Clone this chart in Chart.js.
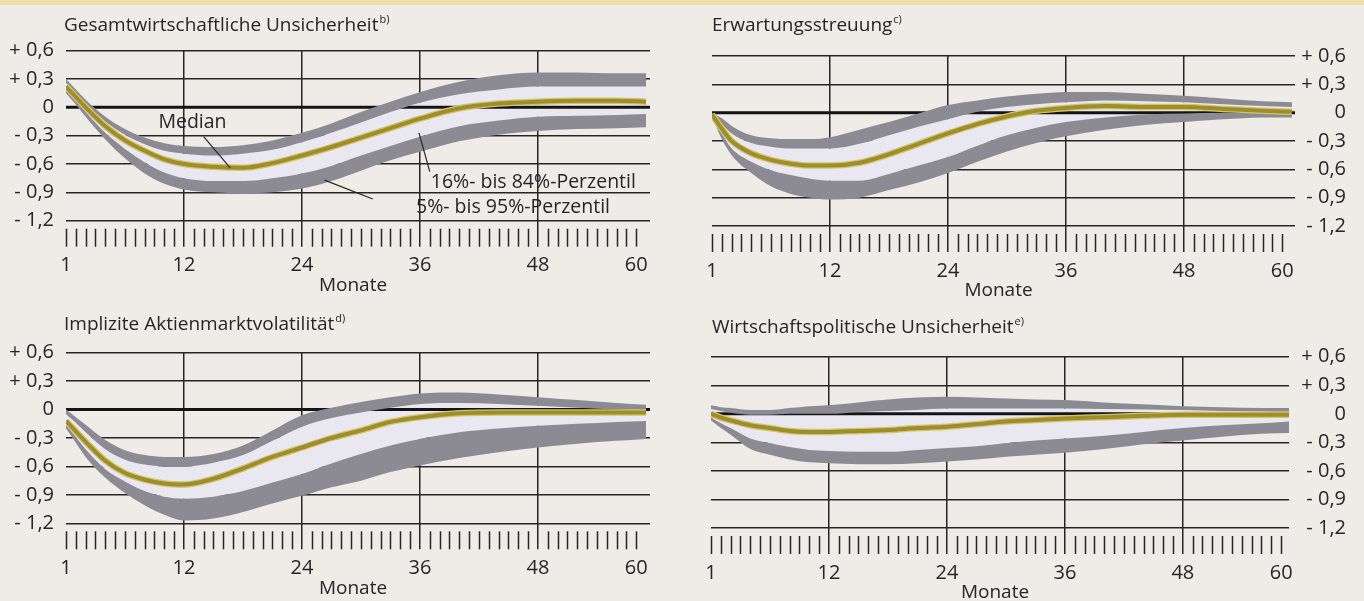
<!DOCTYPE html>
<html lang="de">
<head>
<meta charset="utf-8">
<title>Unsicherheitsschocks</title>
<script src="https://cdn.jsdelivr.net/npm/chart.js@4.4.1/dist/chart.umd.min.js"></script>
<style>
    html, body { margin: 0; padding: 0; background: #eeece7; }
    #page { position: relative; width: 1364px; height: 601px; overflow: hidden; background: #eeece7; }
    #page .strip { position: absolute; left: 0; top: 0; width: 1364px; height: 5px; background: #ece0a6; }
    #page canvas { position: absolute; }
</style>
</head>
<body>
<div id="page">
    <div class="strip"></div>
    <canvas id="tl" width="682" height="300" style="left:0;top:0"></canvas>
    <canvas id="tr" width="682" height="300" style="left:682px;top:0"></canvas>
    <canvas id="bl" width="682" height="301" style="left:0;top:300px"></canvas>
    <canvas id="br" width="682" height="301" style="left:682px;top:300px"></canvas>
</div>
<script>
// sample positions along the month axis (first tick = "1")
const months = [0, 1, 2, 4, 6, 8, 10, 12, 15, 18, 21, 24, 27, 30, 33, 36, 40, 44, 48, 52, 56, 59];

const yTicks = [0.6, 0.3, 0, -0.3, -0.6, -0.9, -1.2];
const xTickValues = [0, 12, 24, 36, 48, 58];
const xTickLabels = ['1', '12', '24', '36', '48', '60'];

// Gesamtwirtschaftliche Unsicherheit
const gesP95 = [0.30, 0.19, 0.08, -0.10, -0.23, -0.32, -0.38, -0.41, -0.42, -0.40, -0.35, -0.27, -0.17, -0.05, 0.06, 0.16, 0.27, 0.34, 0.37, 0.37, 0.36, 0.36];
const gesP84 = [0.26, 0.15, 0.04, -0.15, -0.29, -0.39, -0.46, -0.49, -0.51, -0.49, -0.45, -0.37, -0.27, -0.16, -0.05, 0.05, 0.14, 0.19, 0.22, 0.22, 0.22, 0.22];
const gesMed = [0.22, 0.11, 0.00, -0.20, -0.35, -0.46, -0.55, -0.60, -0.63, -0.64, -0.59, -0.51, -0.42, -0.32, -0.22, -0.12, -0.01, 0.04, 0.06, 0.07, 0.07, 0.06];
const gesP16 = [0.18, 0.07, -0.05, -0.27, -0.44, -0.58, -0.69, -0.75, -0.78, -0.78, -0.75, -0.70, -0.62, -0.51, -0.41, -0.31, -0.20, -0.14, -0.10, -0.09, -0.08, -0.07];
const gesP5 = [0.15, 0.03, -0.10, -0.34, -0.54, -0.70, -0.81, -0.87, -0.90, -0.91, -0.90, -0.86, -0.78, -0.67, -0.56, -0.47, -0.36, -0.29, -0.25, -0.23, -0.22, -0.21];

// Erwartungsstreuung
const erwP95 = [0.00, -0.06, -0.14, -0.24, -0.27, -0.28, -0.28, -0.26, -0.18, -0.10, -0.01, 0.08, 0.13, 0.17, 0.20, 0.22, 0.22, 0.20, 0.18, 0.15, 0.12, 0.11];
const erwP84 = [-0.01, -0.12, -0.22, -0.32, -0.36, -0.38, -0.38, -0.38, -0.33, -0.24, -0.15, -0.07, 0.01, 0.06, 0.09, 0.11, 0.13, 0.12, 0.11, 0.09, 0.07, 0.06];
const erwMed = [-0.02, -0.17, -0.30, -0.43, -0.50, -0.54, -0.56, -0.56, -0.53, -0.44, -0.33, -0.22, -0.12, -0.04, 0.02, 0.05, 0.07, 0.06, 0.06, 0.04, 0.02, 0.01];
const erwP16 = [-0.03, -0.22, -0.38, -0.52, -0.61, -0.66, -0.70, -0.72, -0.72, -0.65, -0.56, -0.47, -0.35, -0.24, -0.16, -0.10, -0.05, -0.02, -0.01, 0.00, 0.00, 0.00];
const erwP5 = [-0.04, -0.28, -0.45, -0.64, -0.78, -0.86, -0.90, -0.92, -0.90, -0.82, -0.74, -0.64, -0.52, -0.41, -0.32, -0.25, -0.18, -0.13, -0.10, -0.07, -0.05, -0.05];

// Implizite Aktienmarktvolatilität
const volP95 = [0.00, -0.08, -0.16, -0.32, -0.43, -0.48, -0.50, -0.50, -0.47, -0.38, -0.22, -0.06, 0.02, 0.08, 0.13, 0.17, 0.18, 0.16, 0.13, 0.10, 0.07, 0.05];
const volP84 = [-0.05, -0.14, -0.24, -0.42, -0.53, -0.58, -0.60, -0.60, -0.56, -0.48, -0.33, -0.18, -0.09, -0.03, 0.02, 0.06, 0.07, 0.06, 0.04, 0.02, 0.00, -0.01];
const volMed = [-0.12, -0.23, -0.34, -0.54, -0.67, -0.74, -0.78, -0.79, -0.73, -0.62, -0.50, -0.40, -0.30, -0.22, -0.13, -0.08, -0.04, -0.03, -0.03, -0.03, -0.03, -0.03];
const volP16 = [-0.16, -0.29, -0.42, -0.63, -0.76, -0.86, -0.92, -0.94, -0.92, -0.86, -0.77, -0.68, -0.57, -0.47, -0.38, -0.31, -0.24, -0.20, -0.17, -0.15, -0.13, -0.12];
const volP5 = [-0.20, -0.35, -0.50, -0.72, -0.88, -1.01, -1.11, -1.17, -1.15, -1.08, -0.99, -0.91, -0.82, -0.75, -0.66, -0.59, -0.51, -0.45, -0.40, -0.36, -0.33, -0.31];

// Wirtschaftspolitische Unsicherheit
const polP95 = [0.09, 0.07, 0.06, 0.04, 0.04, 0.06, 0.08, 0.09, 0.12, 0.15, 0.17, 0.18, 0.17, 0.16, 0.15, 0.145, 0.12, 0.10, 0.08, 0.07, 0.06, 0.06];
const polP84 = [0.05, 0.03, 0.01, -0.01, -0.01, 0.00, 0.00, 0.00, 0.02, 0.03, 0.04, 0.055, 0.055, 0.055, 0.055, 0.055, 0.05, 0.045, 0.04, 0.03, 0.025, 0.02];
const polMed = [0.00, -0.04, -0.07, -0.12, -0.15, -0.18, -0.19, -0.19, -0.18, -0.17, -0.15, -0.135, -0.11, -0.08, -0.065, -0.05, -0.035, -0.02, -0.01, -0.01, -0.01, -0.01];
const polP16 = [-0.04, -0.10, -0.15, -0.26, -0.31, -0.35, -0.38, -0.39, -0.40, -0.40, -0.38, -0.36, -0.34, -0.31, -0.28, -0.26, -0.23, -0.19, -0.15, -0.12, -0.10, -0.08];
const polP5 = [-0.07, -0.15, -0.22, -0.37, -0.43, -0.48, -0.51, -0.52, -0.53, -0.53, -0.52, -0.50, -0.48, -0.45, -0.43, -0.41, -0.37, -0.32, -0.28, -0.24, -0.21, -0.20];

const INK = '#262626';
const BAND_DARK = '#8c8b93';
const BAND_LIGHT = '#e9e8f0';
const FONT = "'Open Sans', 'Noto Sans', sans-serif";

Chart.defaults.font.family = FONT;
Chart.defaults.font.size = 20;
Chart.defaults.color = INK;

function pts(values) {
    return values.map((v, i) => ({ x: months[i], y: v }));
}

function formatY(value) {
    const v = Math.round(value * 10) / 10;
    if (v === 0) {
        return '0';
    }
    const txt = Math.abs(v).toFixed(1).replace('.', ',');
    return (v > 0 ? '+ ' : '- ') + txt;
}

function isMajor(v) {
    return v > 0 && v < xTickValues[xTickValues.length - 1] && v % 12 === 0;
}

// zero line, small month ticks, titles and notes
const panelDecor = {
    id: 'panelDecor',
    afterDatasetDraw(chart, args) {
        // zero line sits on the light band, below the dark bands
        if (args.index !== 4) {
            return;
        }
        const { ctx, chartArea, scales } = chart;
        const y0 = scales.y.getPixelForValue(0);
        ctx.save();
        ctx.strokeStyle = '#141414';
        ctx.lineWidth = 3;
        ctx.beginPath();
        ctx.moveTo(chartArea.left, y0);
        ctx.lineTo(chartArea.right, y0);
        ctx.stroke();
        ctx.restore();
    },
    afterDraw(chart, args, opts) {
        const { ctx, chartArea, scales } = chart;
        const x = scales.x;
        const y = scales.y;
        const last = xTickValues[xTickValues.length - 1];

        ctx.save();
        ctx.strokeStyle = INK;
        ctx.lineWidth = 1.5;
        for (let i = 0; i <= last; i++) {
            if (isMajor(i)) {
                continue;
            }
            const px = Math.round(x.getPixelForValue(i)) + 0.5;
            ctx.beginPath();
            ctx.moveTo(px, chartArea.bottom + 8);
            ctx.lineTo(px, chartArea.bottom + 26);
            ctx.stroke();
        }

        ctx.fillStyle = INK;
        ctx.textBaseline = 'alphabetic';
        ctx.textAlign = 'left';
        ctx.font = '19px ' + FONT;
        ctx.fillText(opts.title, opts.titleX, opts.titleY);
        const w = ctx.measureText(opts.title).width;
        ctx.font = '11px ' + FONT;
        ctx.fillText(opts.note, opts.titleX + w + 1, opts.titleY - 8);

        ctx.font = '19px ' + FONT;
        ctx.textAlign = 'center';
        ctx.textBaseline = 'middle';
        ctx.fillText('Monate', (chartArea.left + chartArea.right) / 2 - 5, chartArea.bottom + 65);

        if (opts.labels) {
            ctx.textAlign = 'left';
            ctx.font = '19.5px ' + FONT;
            opts.labels.forEach(l => {
                ctx.fillText(l.text, x.getPixelForValue(l.at[0]), y.getPixelForValue(l.at[1]));
                ctx.lineWidth = 1.2;
                ctx.beginPath();
                ctx.moveTo(x.getPixelForValue(l.from[0]), y.getPixelForValue(l.from[1]));
                ctx.lineTo(x.getPixelForValue(l.to[0]), y.getPixelForValue(l.to[1]));
                ctx.stroke();
            });
        }
        ctx.restore();
    }
};

function makePanel(canvasId, cfg) {
    const datasets = [
        { data: pts(cfg.med), borderColor: '#9e8d2c', borderWidth: 4, fill: false },
        { data: pts(cfg.med), borderColor: '#d2c566', borderWidth: 6.5, fill: false },
        { data: pts(cfg.p95), borderWidth: 0, backgroundColor: BAND_DARK, fill: 4 },
        { data: pts(cfg.p5), borderWidth: 0, backgroundColor: BAND_DARK, fill: 5 },
        { data: pts(cfg.p84), borderWidth: 0, backgroundColor: BAND_LIGHT, fill: 5 },
        { data: pts(cfg.p16), borderWidth: 0, fill: false }
    ];

    return new Chart(document.getElementById(canvasId), {
        type: 'line',
        data: { datasets: datasets },
        plugins: [panelDecor],
        options: {
            responsive: false,
            animation: false,
            events: [],
            devicePixelRatio: 1,
            layout: { padding: cfg.padding },
            elements: {
                point: { radius: 0 },
                line: { cubicInterpolationMode: 'monotone' }
            },
            plugins: {
                legend: { display: false },
                tooltip: { enabled: false },
                panelDecor: {
                    title: cfg.title,
                    note: cfg.note,
                    titleX: cfg.titleX,
                    titleY: cfg.titleY,
                    labels: cfg.labels
                }
            },
            scales: {
                x: {
                    type: 'linear',
                    min: 0,
                    max: cfg.xMax,
                    afterBuildTicks: s => {
                        const last = xTickValues[xTickValues.length - 1];
                        const t = [];
                        for (let i = 0; i <= last; i++) {
                            t.push({ value: i });
                        }
                        s.ticks = t;
                    },
                    afterFit: s => { s.height = cfg.xHeight; },
                    border: { display: false },
                    grid: {
                        color: c => isMajor(c.tick.value) ? INK : 'transparent',
                        tickColor: c => isMajor(c.tick.value) ? INK : 'transparent',
                        lineWidth: 1.5,
                        tickLength: 26
                    },
                    ticks: {
                        autoSkip: false,
                        maxRotation: 0,
                        padding: 7,
                        callback: v => {
                            const k = xTickValues.indexOf(v);
                            return k < 0 ? '' : xTickLabels[k];
                        }
                    }
                },
                y: {
                    type: 'linear',
                    position: cfg.side,
                    min: -1.2,
                    max: 0.6,
                    afterBuildTicks: s => { s.ticks = yTicks.map(v => ({ value: v })); },
                    afterFit: s => { s.width = cfg.yWidth; },
                    border: { display: false },
                    grid: {
                        color: c => c.tick.value === 0 ? 'transparent' : INK,
                        lineWidth: 1.5,
                        drawTicks: false
                    },
                    ticks: {
                        padding: 12,
                        crossAlign: cfg.side === 'right' ? 'far' : 'near',
                        callback: formatY
                    }
                }
            }
        }
    });
}

makePanel('tl', {
    p95: gesP95, p84: gesP84, med: gesMed, p16: gesP16, p5: gesP5,
    title: 'Gesamtwirtschaftliche Unsicherheit', note: 'b)', titleX: 64, titleY: 31,
    side: 'left', yWidth: 66, xHeight: 79.3, xMax: 59.4,
    padding: { left: 0, right: 32, top: 50.7, bottom: 0 },
    labels: [
        { text: 'Median', at: [9.4, -0.16], from: [14.0, -0.31], to: [16.7, -0.64] },
        { text: '16%- bis 84%-Perzentil', at: [37.1, -0.80], from: [35.9, -0.27], to: [37.0, -0.68] },
        { text: '5%- bis 95%-Perzentil', at: [35.6, -1.06], from: [26.3, -0.77], to: [31.2, -0.97] }
    ]
});

makePanel('tr', {
    p95: erwP95, p84: erwP84, med: erwMed, p16: erwP16, p5: erwP5,
    title: 'Erwartungsstreuung', note: 'c)', titleX: 30, titleY: 31,
    side: 'right', yWidth: 51, xHeight: 74, xMax: 59.3,
    padding: { left: 30, right: 18, top: 56, bottom: 0 }
});

makePanel('bl', {
    p95: volP95, p84: volP84, med: volMed, p16: volP16, p5: volP5,
    title: 'Implizite Aktienmarktvolatilität', note: 'd)', titleX: 64, titleY: 30,
    side: 'left', yWidth: 66, xHeight: 77.7, xMax: 59.4,
    padding: { left: 0, right: 32, top: 52.7, bottom: 0 }
});

makePanel('br', {
    p95: polP95, p84: polP84, med: polMed, p16: polP16, p5: polP5,
    title: 'Wirtschaftspolitische Unsicherheit', note: 'e)', titleX: 30, titleY: 33,
    side: 'right', yWidth: 57, xHeight: 73, xMax: 58.8,
    padding: { left: 29, right: 18, top: 56.7, bottom: 0 }
});
</script>
</body>
</html>
